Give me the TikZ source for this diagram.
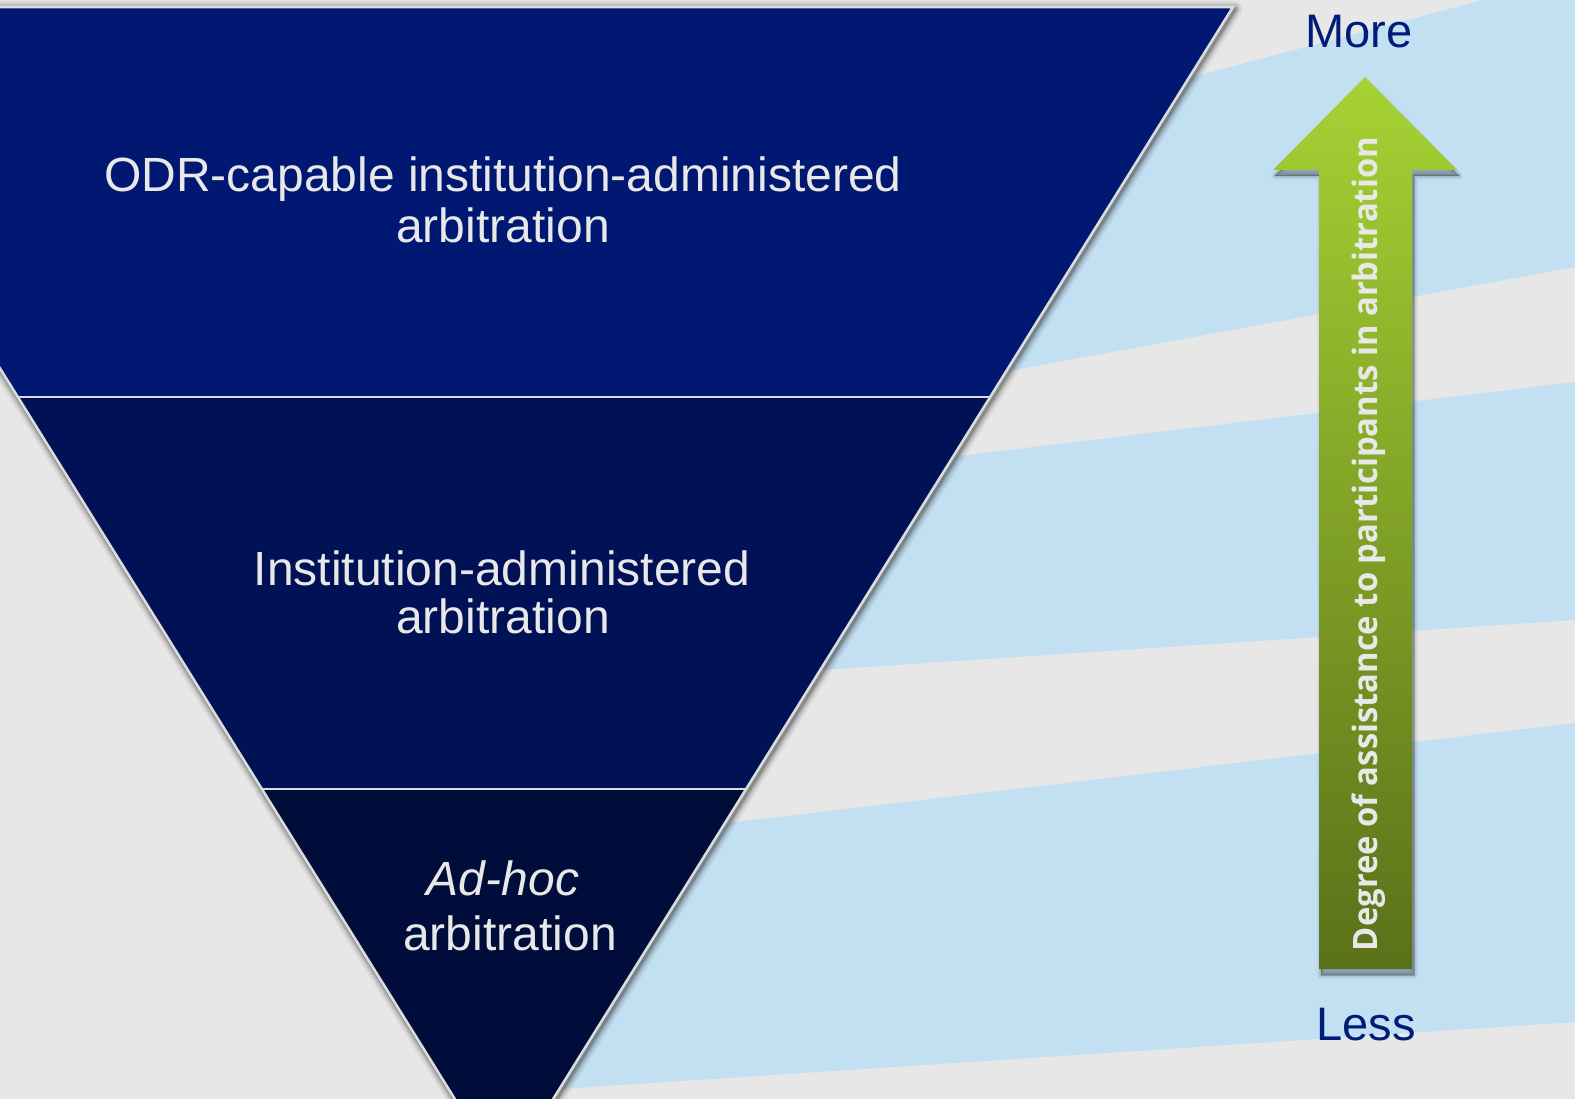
\documentclass[tikz,border=0pt]{standalone}
\usepackage{fontspec}
\setmainfont{Liberation Sans}
\newfontfamily\arrowfont{Open Sans}
\definecolor{bgc}{HTML}{E7E7E7}
\definecolor{bandc}{HTML}{C3DFF2}
\definecolor{topc}{HTML}{001871}
\definecolor{midc}{HTML}{001155}
\definecolor{botc}{HTML}{000D3A}
\definecolor{edgec}{HTML}{DCDCDC}
\definecolor{arrtop}{HTML}{A6D234}
\definecolor{arrbot}{HTML}{5A7119}
\definecolor{txtc}{HTML}{E8E8E8}
\definecolor{labc}{HTML}{001C7A}
\tikzset{
  band/.style={fill=bandc},
  lvltext/.style={text=txtc, anchor=base, inner sep=0pt, font=\fontsize{48}{58}\selectfont},
  endlabel/.style={text=labc, anchor=base, inner sep=0pt, font=\fontsize{47}{56}\selectfont},
  edgeline/.style={draw=edgec, line width=2.6pt, line join=miter},
  shadowline/.style={draw=black, line join=round},
}
\begin{document}
\begin{tikzpicture}[x=1pt,y=-1pt]
\useasboundingbox (0,0) rectangle (1575,1099);
\fill[bgc] (0,0) rectangle (1575,1099);
% light blue bands
\fill[band] (1000,128) -- (1483,0) -- (1575,0) -- (1575,267) -- (900,391) -- cycle;
\fill[band] (800,475) -- (1575,382) -- (1575,620) -- (700,678) -- cycle;
\fill[band] (600,838) -- (1575,723) -- (1575,1022) -- (500,1093) -- cycle;
% triangle corners
\coordinate (tl) at (-225,7);
\coordinate (tr) at (1233,7);
\coordinate (ml) at (17.6,397);
\coordinate (mr) at (990.4,397);
\coordinate (bl) at (261.4,789);
\coordinate (br) at (746.6,789);
\coordinate (ap) at (504,1178);
% soft shadow
\foreach \w/\o in {16/0.05,12/0.07,9/0.09,6/0.12,4/0.15}{
  \draw[shadowline, line width=\w pt, opacity=\o] ([shift={(1.5,2)}]tl) -- ([shift={(1.5,2)}]tr) -- ([shift={(1.5,2)}]ap) -- cycle;
}
% sections
\fill[topc] (tl) -- (tr) -- (mr) -- (ml) -- cycle;
\fill[midc] (ml) -- (mr) -- (br) -- (bl) -- cycle;
\fill[botc] (bl) -- (br) -- (ap) -- cycle;
% separators and outline
\draw[edgeline] (ml) -- (mr);
\draw[edgeline] (bl) -- (br);
\draw[edgeline] (tl) -- (tr) -- (ap) -- cycle;
% level texts
\node[lvltext] (odr1) at (503,192) {ODR-capable institution-administered};
\node[lvltext] (odr2) at (503,243) {arbitration};
\node[lvltext] (ins1) at (502,585) {Institution-administered};
\node[lvltext] (ins2) at (503,633) {arbitration};
\node[lvltext] (adh1) at (503,895) {\itshape Ad-hoc};
\node[lvltext] (adh2) at (510,950) {arbitration};
% arrow shadow
\foreach \w/\o in {8/0.04,5/0.06,2.5/0.08,0/0.12}{
  \fill[black, opacity=\o, draw=black, line width=\w pt, line join=round] (1367,83) -- (1459,176) -- (1414,176) -- (1414,975) -- (1321,975) -- (1321,176) -- (1275,176) -- cycle;
}
\shade[top color=arrtop, bottom color=arrbot] (1365,77) -- (1457,170) -- (1412,170) -- (1412,969) -- (1319,969) -- (1319,170) -- (1273,170) -- cycle;
\node[rotate=90, anchor=base, inner sep=0pt, text=txtc, font=\arrowfont\bfseries\fontsize{33.6}{40}\selectfont] (deg) at (1377,544) {\scalebox{0.975}[1]{Degree of assistance to participants in arbitration}};
% end labels
\node[endlabel] (more) at (1359,48) {More};
\node[endlabel] (less) at (1366,1040) {Less};
\end{tikzpicture}
\end{document}
